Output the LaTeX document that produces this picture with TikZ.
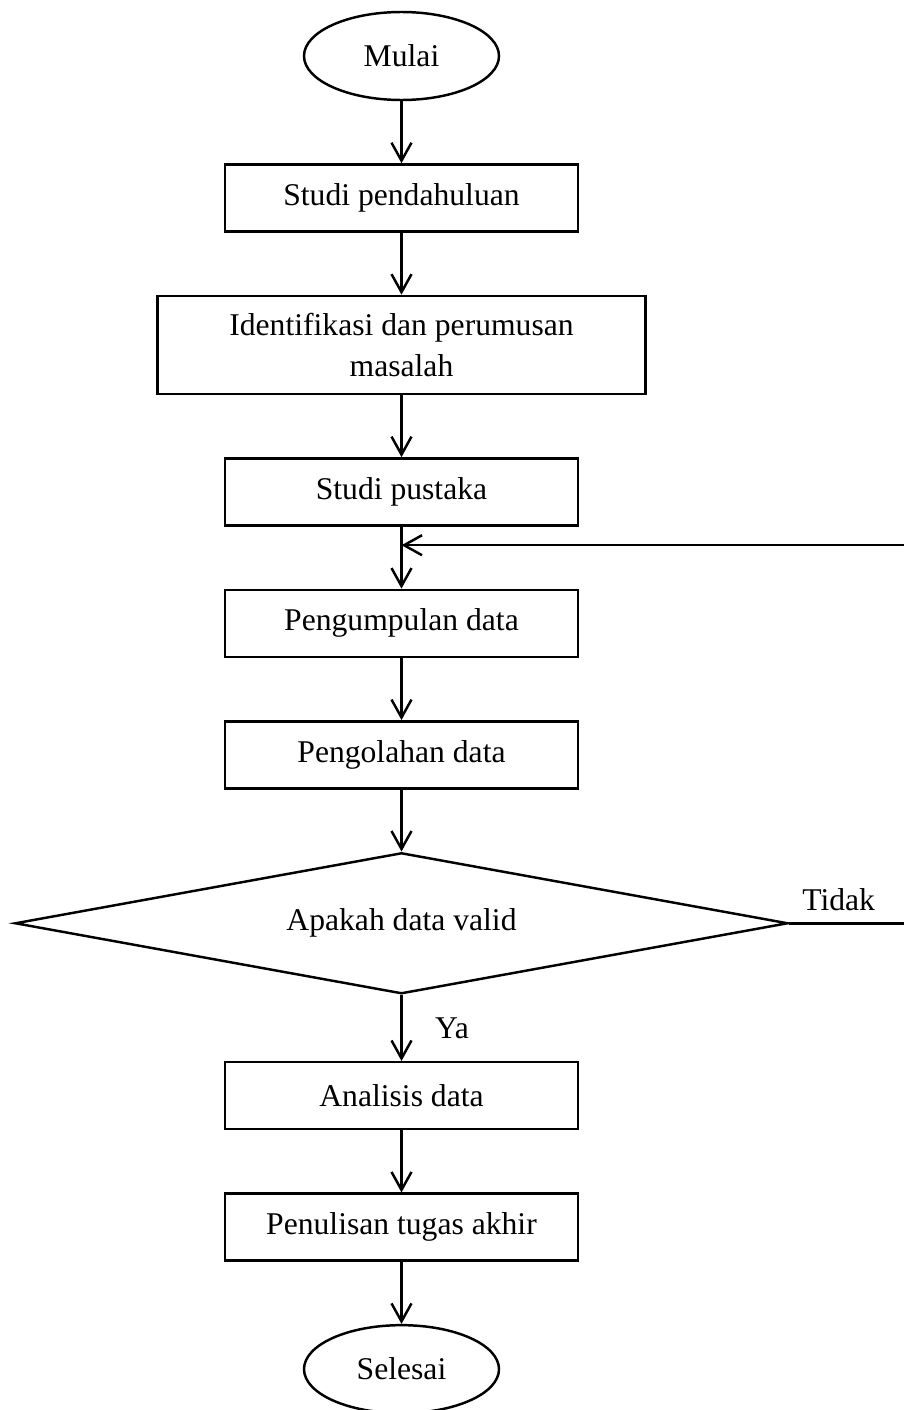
\documentclass[tikz,border=0pt]{standalone}
\usepackage{fontspec}
\setmainfont{Liberation Serif}
\usetikzlibrary{positioning}
\usetikzlibrary{shapes.geometric}
\usetikzlibrary{arrows.meta}
\usetikzlibrary{calc}
\tikzset{proses/.style={rectangle,draw,line width=1.4pt,minimum width=7.06cm,minimum height=1.34cm,inner sep=0pt,font=\fontsize{18}{23}\selectfont},
  terminal/.style={ellipse,draw,line width=1.4pt,minimum width=3.9cm,minimum height=1.76cm,inner sep=0pt,font=\fontsize{18}{23}\selectfont},
  keputusan/.style={diamond,draw,line width=1.4pt,aspect=5.48,minimum width=15.46cm,minimum height=2.82cm,inner sep=0pt,font=\fontsize{18}{23}\selectfont},
  panah/.style={-{Straight Barb[length=3.6mm,width=4mm]},line width=1.4pt},
  label teks/.style={font=\fontsize{18}{23}\selectfont},}

\begin{document}
\begin{tikzpicture}
   \useasboundingbox (0,0) rectangle (18.06,-28.2);
   \node[terminal] (mulai) at (8.03,-1.12) {Mulai};
   \node[proses] (studi) [below = 1.24cm of mulai] {Studi pendahuluan};
   \node[proses,minimum width=9.76cm,minimum height=1.96cm,align=center] (identifikasi) [below = 1.24cm of studi] {Identifikasi dan perumusan\\masalah};
   \node[proses] (pustaka) [below = 1.24cm of identifikasi] {Studi pustaka};
   \node[proses] (kumpul) [below = 1.24cm of pustaka] {Pengumpulan data};
   \node[proses] (olah) [below = 1.24cm of kumpul] {Pengolahan data};
   \node[keputusan] (valid) [below = 1.24cm of olah] {Apakah data valid};
   \node[proses] (analisis) [below = 1.32cm of valid] {Analisis data};
   \node[proses] (tulis) [below = 1.24cm of analisis] {Penulisan tugas akhir};
   \node[terminal] (selesai) [below = 1.24cm of tulis] {Selesai};

   \coordinate (masuk) at ($(pustaka.south)!0.3!(kumpul.north)$);
   \coordinate (kanan) at (18.14,0);

   \path[panah]
   (mulai) edge (studi)
   (studi) edge (identifikasi)
   (identifikasi) edge (pustaka)
   (pustaka) edge (kumpul)
   (kumpul) edge (olah)
   (olah) edge (valid)
   (valid) edge node[label teks,right,xshift=0.53cm] {Ya} (analisis)
   (analisis) edge (tulis)
   (tulis) edge (selesai);

   \draw[panah] (valid.east) -- node[label teks,above,pos=0.42,yshift=0.1cm] {Tidak} (valid.east -| kanan) -- (kanan |- masuk) -- (masuk);
  \end{tikzpicture}
\end{document}
